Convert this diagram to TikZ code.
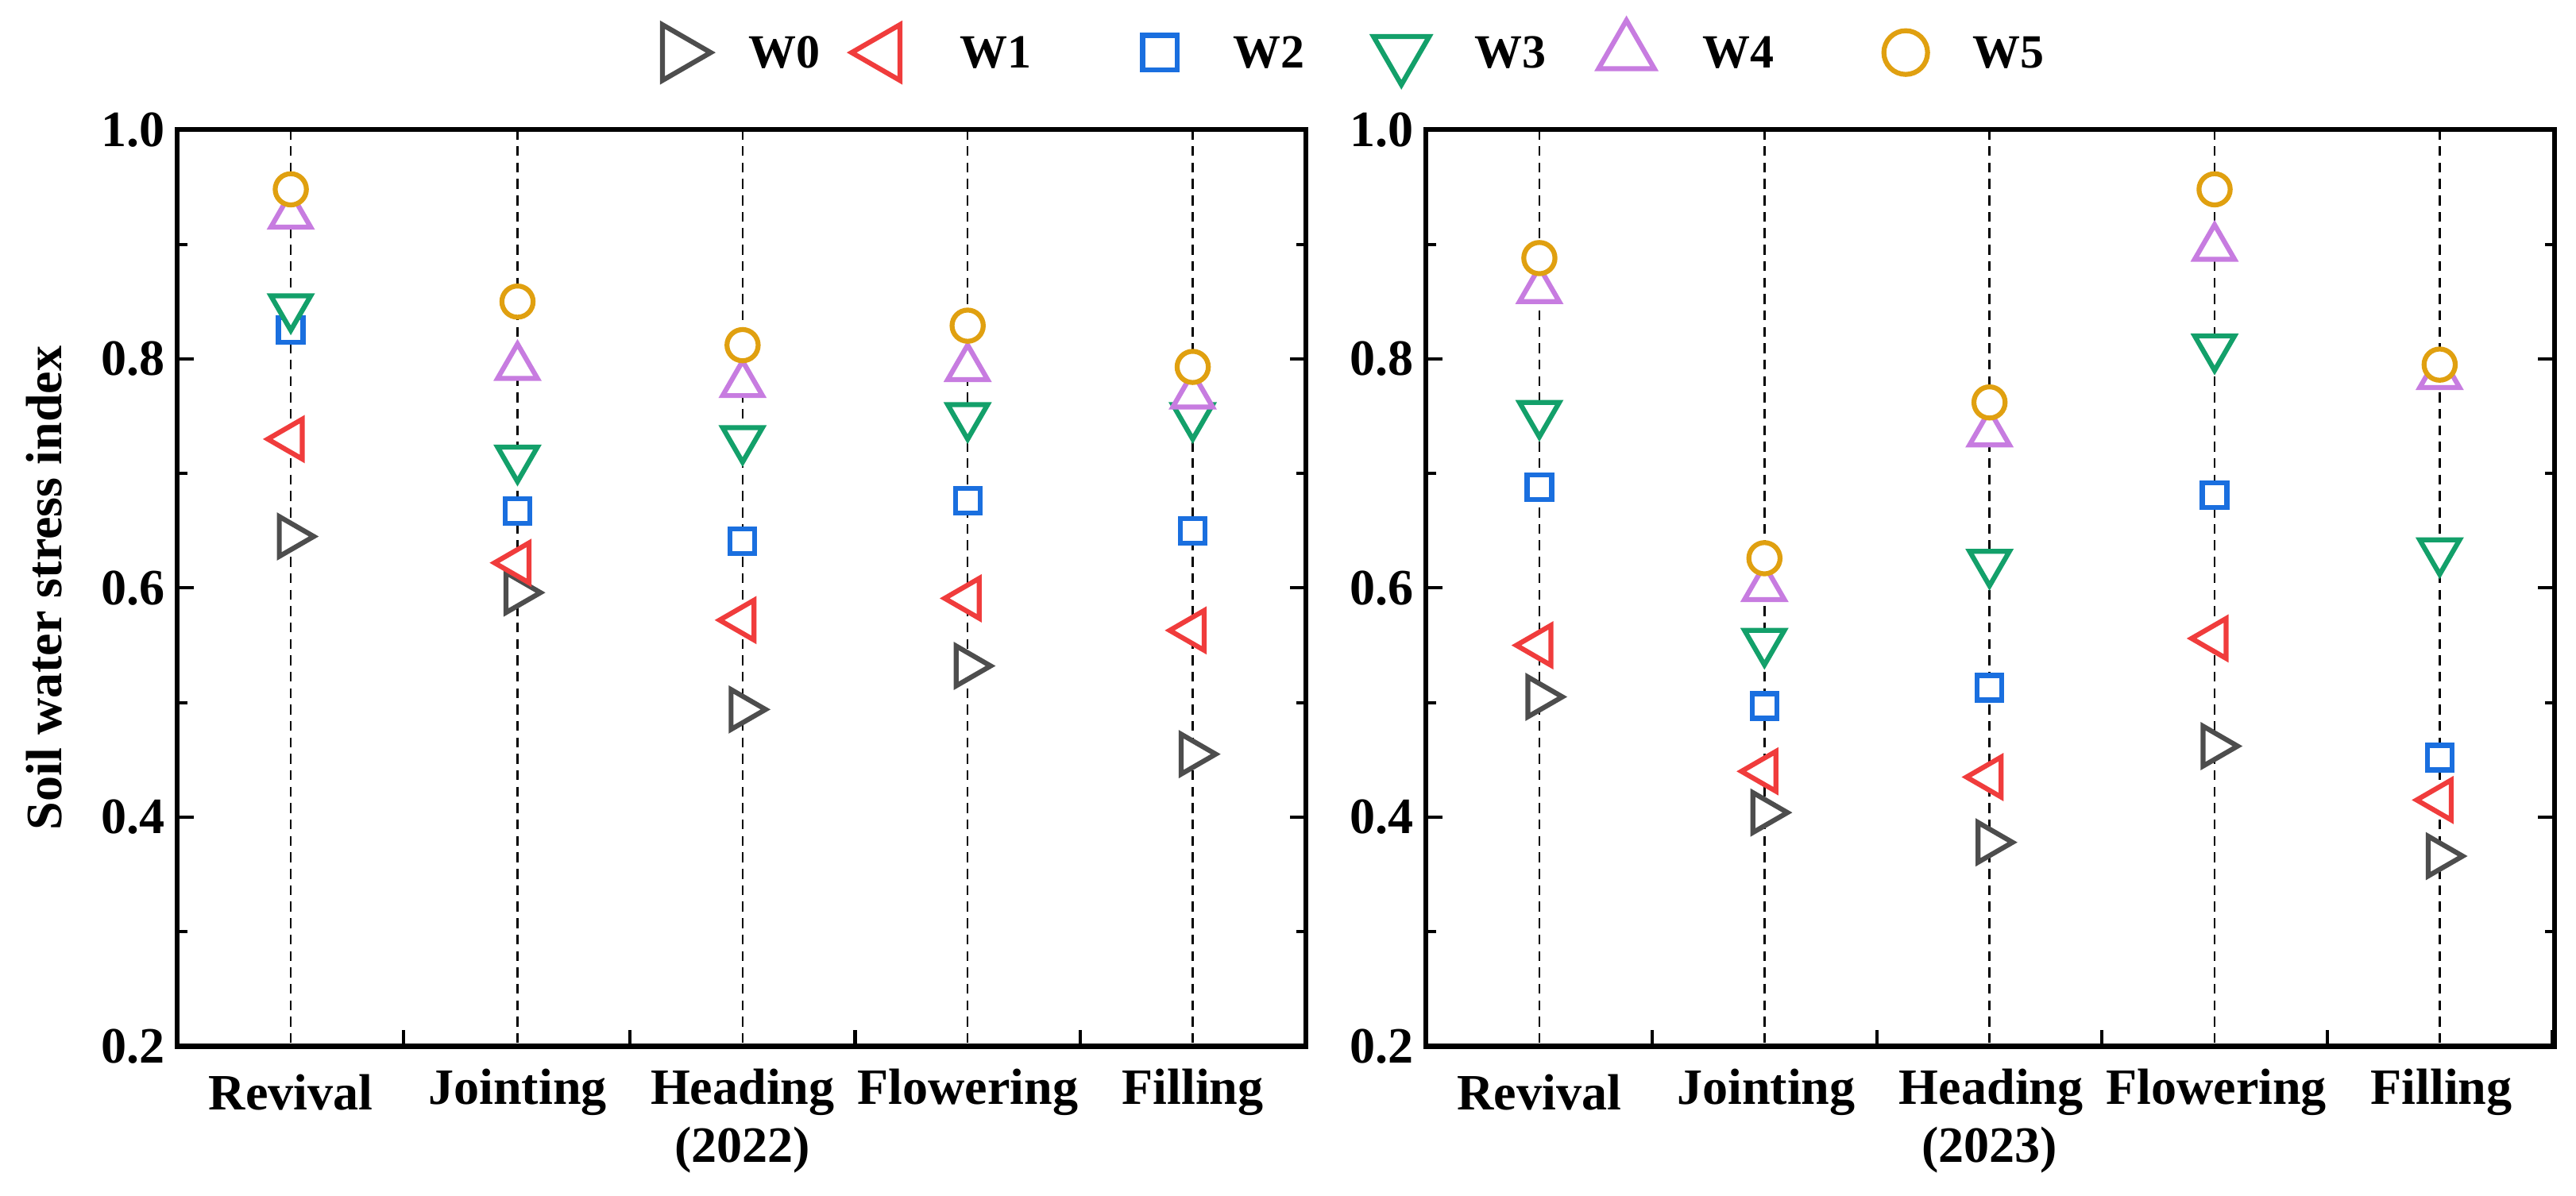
\documentclass[tikz,border=0pt]{standalone}
\usepackage{fontspec}
\setmainfont{Liberation Serif}
\usetikzlibrary{shapes.geometric}
\definecolor{c0}{HTML}{4D4D4D}
\definecolor{c1}{HTML}{F03C3C}
\definecolor{c2}{HTML}{1A6FDF}
\definecolor{c3}{HTML}{13A06A}
\definecolor{c4}{HTML}{C77CE0}
\definecolor{c5}{HTML}{E0A010}
\tikzset{
 mk/.style={fill=white, line width=3pt, inner sep=0pt},
 m0/.style={mk, draw=c0, regular polygon, regular polygon sides=3, minimum size=28pt, rotate=-90},
 m1/.style={mk, draw=c1, regular polygon, regular polygon sides=3, minimum size=28pt, rotate=90},
 m2/.style={mk, draw=c2, rectangle, minimum size=15pt},
 m3/.style={mk, draw=c3, regular polygon, regular polygon sides=3, minimum size=28pt, rotate=180},
 m4/.style={mk, draw=c4, regular polygon, regular polygon sides=3, minimum size=28pt},
 m5/.style={mk, draw=c5, circle, minimum size=19pt},
 frame/.style={line width=3pt, black},
 lab/.style={font=\fontsize{31}{36}\selectfont\bfseries},
 guide/.style={dash pattern=on 6pt off 4pt, line width=1.2pt, black},
}
\begin{document}
\begin{tikzpicture}[x=1pt,y=-1pt]
\useasboundingbox (0,0) rectangle (1568,728);
% legend
\foreach \i/\x/\t in {0/413/452,1/538/581,2/706/747,3/853/894,4/990/1033,5/1160/1197}{
  \node[m\i, scale=1.4] (L\i) at (\x,32) {};
  \node[lab, anchor=west, font=\fontsize{29}{34}\selectfont\bfseries] (LT\i) at (\t,32) {W\i};
}
\node[lab, rotate=90] (ylab) at (27,358) {Soil water stress index};
% panels
\foreach \p/\xl/\xr/\cats/\yr in {A/108/795/{177,315,452,589,726}/2022, B/868/1555/{937,1074,1211,1348,1485}/2023}{
  \foreach \c [count=\k] in \cats {
    \draw[guide] (\c,79) -- (\c,637);
    \draw[frame, line width=2pt] (\c+68.5,637) -- ++(0,-10);
  }
  \draw[frame] (\xl,79) rectangle (\xr,637);
  \foreach \v in {0.2,0.4,0.6,0.8,1.0}{
    \draw[frame, line width=2pt] (\xl,{79+(1-\v)*697.5}) -- ++(10,0);
    \draw[frame, line width=2pt] (\xr,{79+(1-\v)*697.5}) -- ++(-10,0);
    \node[lab, anchor=east] at (\xl-4,{79+(1-\v)*697.5}) {\v};
  }
  \foreach \v in {0.3,0.5,0.7,0.9}{
    \draw[frame, line width=2pt] (\xl,{79+(1-\v)*697.5}) -- ++(6,0);
    \draw[frame, line width=2pt] (\xr,{79+(1-\v)*697.5}) -- ++(-6,0);
  }
}
% category labels
\foreach \n/\x in {Revival/177,Jointing/315,Heading/452,Flowering/589,Filling/726}{
  \node[lab] at (\x,665) {\n};
  \node[lab] at (\x+760,665) {\n};
}
\node[lab] (y1) at (452,700) {(2022)};
\node[lab] (y2) at (1211,700) {(2023)};
% data
\foreach \x/\a/\b/\c/\d/\e/\f in {
 177/.645/.73/.825/.845/.925/.948,
 315/.596/.622/.667/.713/.793/.85,
 452/.494/.572/.641/.73/.778/.812,
 589/.532/.591/.676/.75/.792/.829,
 726/.455/.563/.65/.75/.768/.793,
 937/.505/.55/.688/.752/.86/.888,
 1074/.404/.44/.497/.553/.6/.626,
 1211/.378/.435/.513/.622/.735/.762,
 1348/.462/.556/.681/.81/.897/.948,
 1485/.366/.415/.452/.632/.785/.795}{
  \node[m0] (p0-\x) at (\x,{79+(1-\a)*697.5}) {};
  \node[m1] (p1-\x) at (\x,{79+(1-\b)*697.5}) {};
  \node[m2] (p2-\x) at (\x,{79+(1-\c)*697.5}) {};
  \node[m3] (p3-\x) at (\x,{79+(1-\d)*697.5}) {};
  \node[m4] (p4-\x) at (\x,{79+(1-\e)*697.5}) {};
  \node[m5] (p5-\x) at (\x,{79+(1-\f)*697.5}) {};
}
\end{tikzpicture}
\end{document}
